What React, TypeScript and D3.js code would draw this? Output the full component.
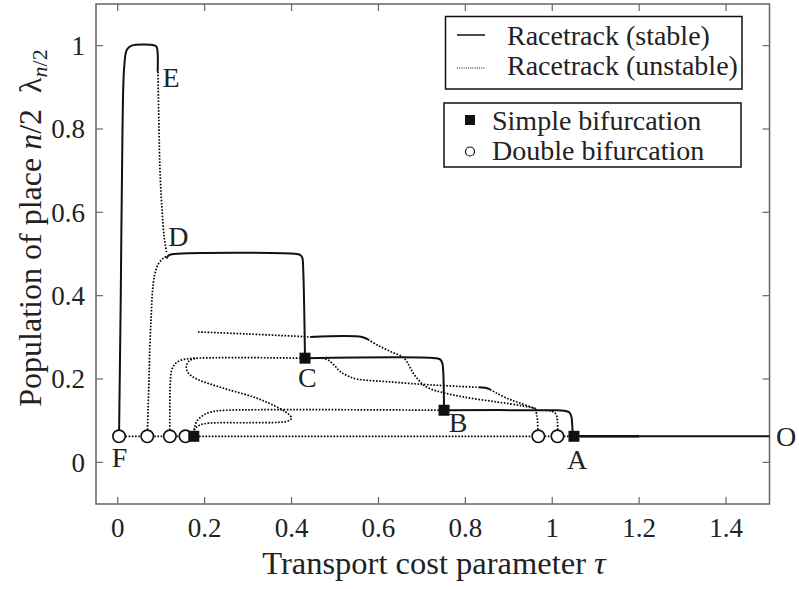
import React from "react";
import * as d3 from "d3";

const width = 799;
const height = 589;
const plot = { left: 96, right: 769.5, top: 4, bottom: 504 };

const xTicks = [0, 0.2, 0.4, 0.6, 0.8, 1, 1.2, 1.4];
const yTicks = [0, 0.2, 0.4, 0.6, 0.8, 1];

// stable branches (solid)
const stableO = [[1.05, 0.0625], [1.5, 0.0625]];
const stableOThick = [[1.064, 0.0625], [1.2, 0.0625]];
const stableA = [[0.751, 0.125], [1.0, 0.125], [1.028, 0.124], [1.039, 0.12], [1.044, 0.11], [1.046, 0.09], [1.047, 0.0625]];
const stableB = [[0.431, 0.25], [0.73, 0.25], [0.742, 0.247], [0.747, 0.238], [0.749, 0.22], [0.751, 0.125]];
const stableC = [[0.112, 0.489], [0.118, 0.497], [0.13, 0.5], [0.412, 0.5], [0.421, 0.497], [0.425, 0.49], [0.427, 0.46], [0.431, 0.25]];
const stableE = [[0.003, 0.0625], [0.007, 0.4], [0.011, 0.8], [0.015, 0.95], [0.021, 0.99], [0.032, 1.0], [0.086, 1.0], [0.09, 0.996], [0.092, 0.98], [0.092, 0.9375]];
const stable03 = [[0.443, 0.301], [0.562, 0.301], [0.576, 0.295]];
const stable018 = [[0.83, 0.18], [0.845, 0.179], [0.857, 0.175]];

// unstable branches (dotted)
const unstable = [
  [[0.0925, 0.9375], [0.095, 0.8], [0.097, 0.71], [0.1, 0.64], [0.103, 0.59], [0.107, 0.54], [0.113, 0.5]],
  [[0.118, 0.497], [0.105, 0.49], [0.093, 0.475], [0.085, 0.45], [0.08, 0.41], [0.077, 0.35], [0.074, 0.28], [0.072, 0.2], [0.07, 0.13], [0.068, 0.0625]],
  [[0.12, 0.0625], [0.12, 0.15], [0.121, 0.19], [0.124, 0.221], [0.132, 0.236], [0.143, 0.244], [0.166, 0.249], [0.431, 0.25]],
  [[0.172, 0.07], [0.18, 0.083], [0.19, 0.09], [0.21, 0.094], [0.3, 0.095], [0.37, 0.096], [0.392, 0.099], [0.4, 0.106], [0.395, 0.114], [0.375, 0.128], [0.32, 0.154], [0.243, 0.178], [0.182, 0.2], [0.162, 0.215], [0.158, 0.232], [0.165, 0.244], [0.18, 0.25]],
  [[0.175, 0.0625], [0.176, 0.08], [0.183, 0.1], [0.2, 0.115], [0.22, 0.122], [0.25, 0.125], [0.751, 0.125]],
  [[0.003, 0.0625], [1.05, 0.0625]],
  [[0.185, 0.313], [0.3, 0.308], [0.443, 0.301]],
  [[0.576, 0.295], [0.6, 0.28], [0.63, 0.265], [0.657, 0.252], [0.669, 0.235], [0.68, 0.214], [0.692, 0.198], [0.703, 0.186], [0.72, 0.176], [0.742, 0.169], [0.795, 0.157], [0.872, 0.145], [0.93, 0.136], [0.962, 0.129]],
  [[0.47, 0.25], [0.485, 0.245], [0.5, 0.231], [0.512, 0.218], [0.53, 0.207], [0.55, 0.2], [0.627, 0.193], [0.719, 0.186], [0.83, 0.18]],
  [[0.857, 0.175], [0.872, 0.166], [0.9, 0.152], [0.926, 0.142], [0.962, 0.129]],
  [[0.962, 0.128], [0.964, 0.115], [0.966, 0.1], [0.967, 0.0625]],
  [[1.012, 0.0625], [1.012, 0.1], [1.008, 0.116], [0.998, 0.123], [0.98, 0.125]],
];

const simplePts = [[0.175, 0.0625], [0.431, 0.25], [0.751, 0.125], [1.05, 0.0625]];
const doublePts = [[0.003, 0.0625], [0.068, 0.0625], [0.12, 0.0625], [0.156, 0.0625], [0.968, 0.0625], [1.012, 0.0625]];

const pointLabels = [
  { t: "E", x: 0.103, y: 0.9 },
  { t: "D", x: 0.116, y: 0.52 },
  { t: "C", x: 0.415, y: 0.18 },
  { t: "B", x: 0.762, y: 0.073 },
  { t: "A", x: 1.034, y: -0.015 },
  { t: "F", x: -0.014, y: -0.012 },
  { t: "O", x: 1.515, y: 0.04 },
];

const legendLines = ["Racetrack (stable)", "Racetrack (unstable)"];
const legendMarks = ["Simple bifurcation", "Double bifurcation"];

export default function App() {
  const x = d3.scaleLinear().domain([-0.05, 1.5]).range([plot.left, plot.right]);
  const y = d3.scaleLinear().domain([-0.1, 1.1]).range([plot.bottom, plot.top]);
  const line = d3
    .line<number[]>()
    .x(d => x(d[0]))
    .y(d => y(d[1]))
    .curve(d3.curveCatmullRom.alpha(0.5));

  const font = "'Liberation Serif', 'Times New Roman', serif";
  const axisColor = "#666";
  const sq = 11;

  return (
    <svg width={width} height={height} style={{ position: "absolute", left: 0, top: 0 }} fontFamily={font}>
      <rect x={0} y={0} width={width} height={height} fill="#fff" />
      {/* frame and ticks */}
      <rect x={plot.left} y={plot.top} width={plot.right - plot.left} height={plot.bottom - plot.top}
        fill="none" stroke={axisColor} strokeWidth={1.5} />
      {xTicks.map(t => (
        <g key={"x" + t}>
          <line x1={x(t)} x2={x(t)} y1={plot.bottom} y2={plot.bottom - 7} stroke={axisColor} strokeWidth={1.2} />
          <line x1={x(t)} x2={x(t)} y1={plot.top} y2={plot.top + 7} stroke={axisColor} strokeWidth={1.2} />
          <text x={x(t)} y={537} fontSize={27} textAnchor="middle" fill="#222">{t}</text>
        </g>
      ))}
      {yTicks.map(t => (
        <g key={"y" + t}>
          <line x1={plot.left} x2={plot.left + 7} y1={y(t)} y2={y(t)} stroke={axisColor} strokeWidth={1.2} />
          <line x1={plot.right} x2={plot.right - 7} y1={y(t)} y2={y(t)} stroke={axisColor} strokeWidth={1.2} />
          <text x={85} y={y(t) + 9.3} fontSize={27} textAnchor="end" fill="#222">{t}</text>
        </g>
      ))}

      {/* unstable */}
      {unstable.map((d, i) => (
        <path key={"u" + i} d={line(d) ?? ""} fill="none" stroke="#000" strokeWidth={1.7} strokeDasharray="1.6 1.6" />
      ))}
      {/* stable */}
      {[stableO, stableA, stableB, stableC, stableE, stable03, stable018].map((d, i) => (
        <path key={"s" + i} d={line(d) ?? ""} fill="none" stroke="#111" strokeWidth={2} />
      ))}
      <path d={line(stableOThick) ?? ""} fill="none" stroke="#111" strokeWidth={2.6} />

      {/* markers */}
      {doublePts.map((p, i) => (
        <circle key={"c" + i} cx={x(p[0])} cy={y(p[1])} r={6.2} fill="#fff" stroke="#111" strokeWidth={1.6} />
      ))}
      {simplePts.map((p, i) => (
        <rect key={"q" + i} x={x(p[0]) - sq / 2} y={y(p[1]) - sq / 2} width={sq} height={sq} fill="#111" />
      ))}

      {pointLabels.map(l => (
        <text key={l.t} x={x(l.x)} y={y(l.y)} fontSize={28} fill="#222">{l.t}</text>
      ))}

      {/* legend */}
      <rect x={445.5} y={16.5} width={296.5} height={72.5} fill="#fff" stroke="#111" strokeWidth={1.5} />
      <line x1={457} x2={485} y1={35} y2={35} stroke="#111" strokeWidth={1.5} />
      <line x1={457} x2={485} y1={68} y2={68} stroke="#111" strokeWidth={1.2} strokeDasharray="1 1.2" />
      {legendLines.map((t, i) => (
        <text key={t} x={507} y={45 + i * 30} fontSize={28} fill="#222">{t}</text>
      ))}
      <rect x={444} y={103} width={297} height={64} fill="#fff" stroke="#111" strokeWidth={1.5} />
      <rect x={465} y={115} width={10} height={10} fill="#111" />
      <circle cx={470} cy={151.5} r={4.5} fill="#fff" stroke="#111" strokeWidth={1.2} />
      {legendMarks.map((t, i) => (
        <text key={t} x={492} y={130 + i * 30} fontSize={28} fill="#222">{t}</text>
      ))}

      {/* axis titles */}
      <text x={434} y={574} fontSize={32.5} textAnchor="middle" fill="#222">
        Transport cost parameter <tspan fontStyle="italic">τ</tspan>
      </text>
      <text transform="translate(41,228) rotate(-90)" fontSize={32} textAnchor="middle" fill="#222">
        Population of place <tspan fontStyle="italic">n</tspan>/2{"\u00a0\u00a0"}λ
        <tspan fontSize={22} dy={6} fontStyle="italic">n</tspan>
        <tspan fontSize={22}>/2</tspan>
      </text>
    </svg>
  );
}
